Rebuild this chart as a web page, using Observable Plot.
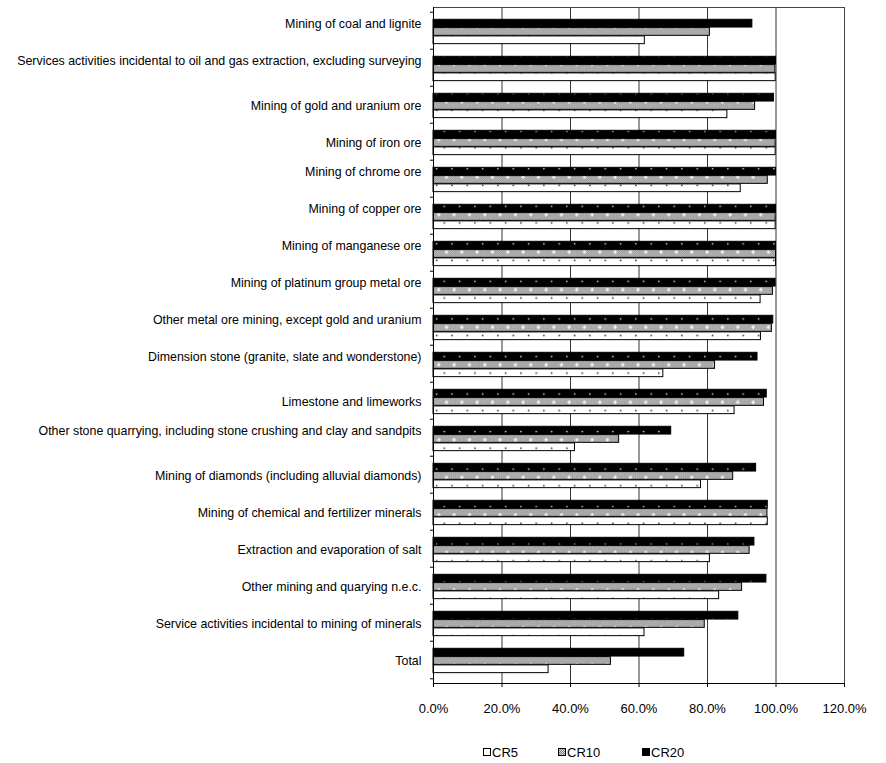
<!DOCTYPE html>
<html><head><meta charset="utf-8">
<script src="https://cdn.jsdelivr.net/npm/d3@7"></script>
<script src="https://cdn.jsdelivr.net/npm/@observablehq/plot@0.6"></script>
<style>
body{margin:0;background:#fff;font-family:"Liberation Sans",Arial,sans-serif;}
#chart{position:relative;width:886px;height:763px;}
.legend{position:absolute;top:744px;left:0;width:886px;height:16px;font-size:13px;color:#000;}
.item{position:absolute;top:0;height:16px;display:flex;align-items:center;}
.item svg{margin-right:1px;}
</style></head><body><div id="chart"></div>
<script>
const categories = [
  "Mining of coal and lignite\n",
  "Services activities incidental to oil and gas extraction, excluding surveying\n",
  "Mining of gold and uranium ore",
  "Mining of iron ore",
  "Mining of chrome ore\n",
  "Mining of copper ore\n",
  "Mining of manganese ore\n",
  "Mining of platinum group metal ore\n",
  "Other metal ore mining, except gold and uranium\n",
  "Dimension stone (granite, slate and wonderstone)\n",
  "Limestone and limeworks",
  "Other stone quarrying, including stone crushing and clay and sandpits\n",
  "Mining of diamonds (including alluvial diamonds)",
  "Mining of chemical and fertilizer minerals",
  "Extraction and evaporation of salt",
  "Other mining and quarying n.e.c.",
  "Service activities incidental to mining of minerals",
  "Total"
];
const cr5  = [0.617, 0.999, 0.858, 0.999, 0.897, 0.999, 1.000, 0.955, 0.956, 0.671, 0.879, 0.413, 0.781, 0.976, 0.807, 0.834, 0.616, 0.336];
const cr10 = [0.807, 0.998, 0.939, 0.999, 0.976, 0.999, 1.000, 0.991, 0.988, 0.822, 0.965, 0.542, 0.875, 0.975, 0.923, 0.901, 0.792, 0.518];
const cr20 = [0.931, 1.000, 0.994, 1.000, 1.000, 1.000, 1.000, 0.999, 0.992, 0.946, 0.973, 0.694, 0.942, 0.976, 0.937, 0.972, 0.890, 0.732];
const xTicks = [0, 0.2, 0.4, 0.6, 0.8, 1.0, 1.2];
const gridTicks = [0.2, 0.4, 0.6, 0.8, 1.0];
const seriesNames = ["CR5", "CR10", "CR20"];

const rows = categories.map((c, i) => ({category: c, CR5: cr5[i], CR10: cr10[i], CR20: cr20[i]}));

const W = 886, H = 726, mL = 433, mR = 42, mT = 7, mB = 43;
const bw = (H - mT - mB) / categories.length;
const barH = 8.3, top0 = 7.3;
const pxPerUnit = (W - mL - mR) / 1.2;
const tickLen = 3 / pxPerUnit;

function bar(key, idx) {
  const it = top0 + idx * barH;
  return Plot.barX(rows, {
    y: "category", x: key, fill: `url(#p${key})`, stroke: "#000", strokeWidth: 1,
    insetTop: it, insetBottom: bw - it - barH
  });
}

const plot = Plot.plot({
  width: W, height: H,
  marginLeft: mL, marginRight: mR, marginTop: mT, marginBottom: mB,
  style: {fontFamily: '"Liberation Sans", Arial, sans-serif', fontSize: "13px", color: "#000", background: "#fff"},
  x: {domain: [0, 1.2], axis: null},
  y: {type: "band", domain: categories, padding: 0, axis: null},
  marks: [
    Plot.ruleX(gridTicks, {stroke: "#333", strokeWidth: 1}),
    bar("CR20", 0),
    bar("CR10", 1),
    bar("CR5", 2),
    Plot.frame({stroke: "#444"}),
    Plot.ruleX([0], {stroke: "#000"}),
    Plot.frame({anchor: "bottom", stroke: "#000"}),
    Plot.ruleY(categories, {y: d => d, x1: -tickLen, x2: 0, dy: -bw / 2, stroke: "#000"}),
    Plot.ruleY(categories.slice(-1), {y: d => d, x1: -tickLen, x2: 0, dy: bw / 2, stroke: "#000"}),
    Plot.axisX({ticks: xTicks, tickFormat: d3.format(".1%"), tickSize: 4, tickPadding: 16, fontSize: 13, anchor: "bottom"}),
    Plot.text(categories, {y: d => d, text: d => d, frameAnchor: "left", dx: -12, textAnchor: "end", lineAnchor: "middle", lineHeight: 1.3, fontSize: 12.4, fill: "#000"})
  ]
});

// patterns
const ns = "http://www.w3.org/2000/svg";
const cy20 = top0 + barH / 2, cy10 = top0 + 1.5 * barH, cy5 = top0 + 2.5 * barH;
const sp = 15.33;
const defsHTML = `
<pattern id="pChk" patternUnits="userSpaceOnUse" width="2" height="2">
  <rect width="2" height="2" fill="#808080"/>
  <rect width="1" height="1" fill="#d4d4d4"/>
  <rect x="1" y="1" width="1" height="1" fill="#d4d4d4"/>
</pattern>
<pattern id="pCR20" patternUnits="userSpaceOnUse" width="${sp}" height="${2*bw}" patternTransform="translate(${mL},${mT})">
  <rect width="${sp}" height="${2*bw}" fill="#000"/>
  <circle cx="3.6" cy="${cy20}" r="0.9" fill="#cfcfcf"/>
  <circle cx="${3.6+sp/2}" cy="${cy20+bw}" r="0.9" fill="#cfcfcf"/>
</pattern>
<pattern id="pCR10" patternUnits="userSpaceOnUse" width="${sp}" height="${2*bw}" patternTransform="translate(${mL},${mT})">
  <rect width="${sp}" height="${2*bw}" fill="url(#pChk)"/>
  <path d="M${13.5-2},${cy10}h4M13.5,${cy10-2}v4" stroke="#fff" stroke-width="1.2"/>
  <path d="M${13.5-sp/2-2},${cy10+bw}h4M${13.5-sp/2},${cy10+bw-2}v4" stroke="#fff" stroke-width="1.2"/>
</pattern>
<pattern id="pCR5" patternUnits="userSpaceOnUse" width="${sp}" height="${2*bw}" patternTransform="translate(${mL},${mT})">
  <rect width="${sp}" height="${2*bw}" fill="#fff"/>
  <circle cx="3.6" cy="${cy5}" r="0.85" fill="#333"/>
  <circle cx="${3.6+sp/2}" cy="${cy5+bw}" r="0.85" fill="#333"/>
</pattern>`;
const defs = document.createElementNS(ns, "defs");
defs.innerHTML = defsHTML;
plot.insertBefore(defs, plot.firstChild);

const chart = document.getElementById("chart");
chart.appendChild(plot);

// legend
const legend = document.createElement("div");
legend.className = "legend";
const legendLeft = [483, 558, 642];
const swatchFill = {CR5: "#fff", CR10: "url(#pChk)", CR20: "#000"};
seriesNames.forEach((s, i) => {
  const it = document.createElement("div");
  it.className = "item";
  it.style.left = legendLeft[i] + "px";
  it.innerHTML = `<svg width="8" height="8"><rect x="0.5" y="0.5" width="7" height="7" fill="${swatchFill[s]}" stroke="#000"/></svg><span>${s}</span>`;
  legend.appendChild(it);
});
chart.appendChild(legend);
</script></body></html>
